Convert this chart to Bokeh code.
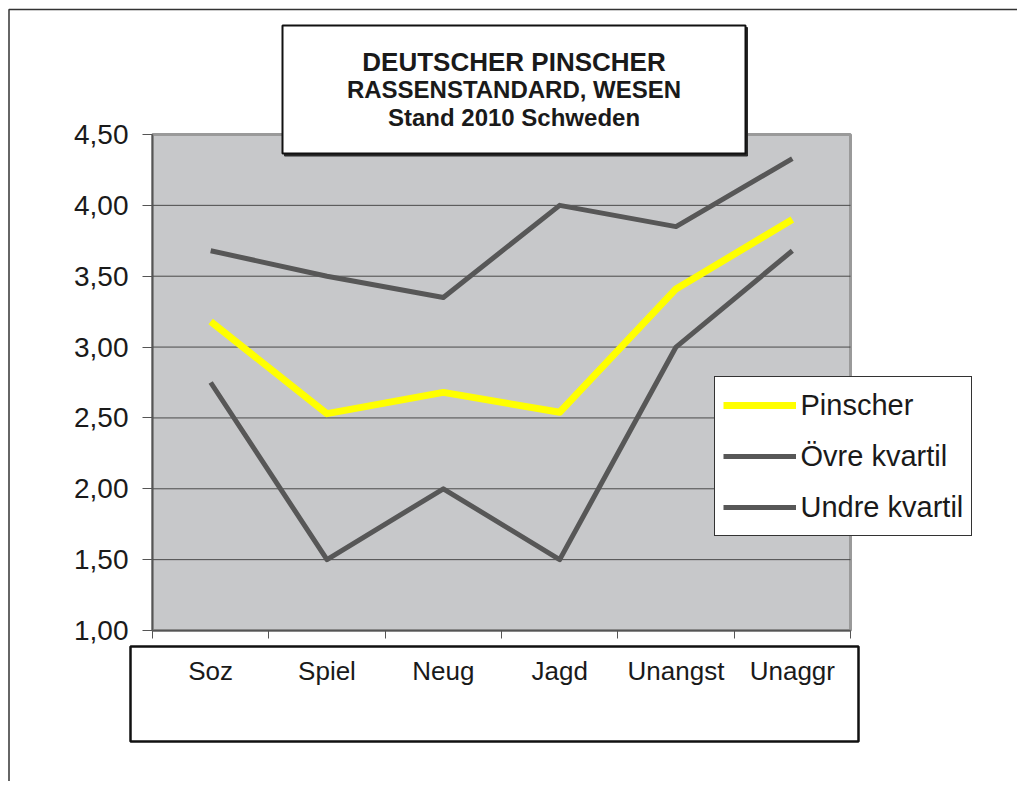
from bokeh.plotting import figure
from bokeh.models import (Range1d, FixedTicker, BoxAnnotation, Label,
                          Legend, LegendItem, LinearAxis)
from bokeh.embed import file_html
from bokeh.resources import INLINE

# ---- data ----
categories = ["Soz", "Spiel", "Neug", "Jagd", "Unangst", "Unaggr"]
pinscher = [3.18, 2.53, 2.68, 2.54, 3.41, 3.90]
ovre_kvartil = [3.68, 3.50, 3.35, 4.00, 3.85, 4.33]
undre_kvartil = [2.75, 1.50, 2.00, 1.50, 3.00, 3.68]
series_names = ["Pinscher", "Övre kvartil", "Undre kvartil"]
y_ticks = [1.0, 1.5, 2.0, 2.5, 3.0, 3.5, 4.0, 4.5]
y_tick_labels = ["1,00", "1,50", "2,00", "2,50", "3,00", "3,50", "4,00", "4,50"]
title_lines = ["DEUTSCHER PINSCHER", "RASSENSTANDARD, WESEN", "Stand 2010 Schweden"]

FONT = "Liberation Sans"
TEXT = "#1a1a1a"
GREY_LINE = "#575757"

# ---- layout (canvas pixels) ----
W, H = 1017, 781
PA_L, PA_R, PA_T, PA_B = 152, 850, 134, 630   # plot area

n = len(categories)
slot_centers = [i + 0.5 for i in range(n)]       # category slot centres
slot_edges = list(range(n + 1))                  # category slot boundaries
y0, y1 = y_ticks[0], y_ticks[-1]
px_x = (PA_R - PA_L) / n
px_y = (PA_B - PA_T) / (y1 - y0)
x_range = Range1d(-PA_L / px_x, (W - PA_L) / px_x)
y_range = Range1d(y0 - (H - PA_B) / px_y, y1 + PA_T / px_y)

p = figure(width=W, height=H, x_range=x_range, y_range=y_range,
           output_backend="svg", toolbar_location=None,
           x_axis_location=None, y_axis_location=None,
           min_border=0)
p.grid.visible = False
p.outline_line_color = None
p.background_fill_color = "white"
p.border_fill_color = "white"

# plot area background and grid lines
p.quad(left=slot_edges[0], right=slot_edges[-1], bottom=y0, top=y1,
       fill_color="#c7c8ca", line_color="#9a9a9a", line_width=3)
inner = y_ticks[1:-1]
p.segment(x0=[slot_edges[0]] * len(inner), y0=inner,
          x1=[slot_edges[-1]] * len(inner), y1=inner,
          line_color="#4a4a4a", line_width=1)

# y axis
ya = LinearAxis(fixed_location=slot_edges[0], bounds=(y0, y1),
                ticker=FixedTicker(ticks=y_ticks),
                major_label_overrides=dict(zip(y_ticks, y_tick_labels)),
                major_label_text_font=FONT, major_label_text_font_size="28px",
                major_label_text_color=TEXT,
                major_tick_out=10, major_tick_in=0, minor_tick_line_color=None,
                axis_line_color="#555555", axis_line_width=1.5,
                major_tick_line_color="#555555", major_label_standoff=14)
p.add_layout(ya, "left")

# x axis: labels at slot centres, tick marks on slot boundaries
xa = LinearAxis(fixed_location=y0, bounds=(slot_edges[0], slot_edges[-1]),
                ticker=FixedTicker(ticks=slot_centers, minor_ticks=slot_edges),
                major_label_overrides=dict(zip(slot_centers, categories)),
                major_label_text_font=FONT, major_label_text_font_size="26px",
                major_label_text_color=TEXT,
                major_tick_line_color=None, major_tick_out=0, major_tick_in=0,
                minor_tick_out=8, minor_tick_in=0, minor_tick_line_color="#555555",
                minor_tick_line_width=1,
                axis_line_color="#555555", axis_line_width=1.5,
                major_label_standoff=17)
p.add_layout(xa, "below")

# lines
r_p = p.line(slot_centers, pinscher, line_color="#ffff00", line_width=7, line_join="round")
r_o = p.line(slot_centers, ovre_kvartil, line_color=GREY_LINE, line_width=5, line_join="round")
r_u = p.line(slot_centers, undre_kvartil, line_color=GREY_LINE, line_width=5, line_join="round")


def screen_box(l, r, t, b, **kw):
    return BoxAnnotation(left=l, right=r, top=H - t, bottom=H - b,
                         left_units="screen", right_units="screen",
                         top_units="screen", bottom_units="screen",
                         line_alpha=1, **kw)


# outer chart border
p.add_layout(screen_box(8.5, W + 50, 9, H + 50, fill_alpha=0,
                        line_color="#333333", line_width=1.5))

# title box with shadow
p.add_layout(screen_box(284, 747, 27, 155.5, fill_color="#2a2a2a", fill_alpha=1,
                        line_color="#2a2a2a", line_width=1))
p.add_layout(screen_box(282, 745, 25, 153, fill_color="white", fill_alpha=1,
                        line_color="#111111", line_width=2))
for txt, base, fs in zip(title_lines, [61, 89, 117], ["26px", "24px", "24px"]):
    p.add_layout(Label(x=513.5, y=H - base, x_units="screen", y_units="screen", text=txt,
                       text_align="center", text_baseline="alphabetic",
                       text_font=FONT, text_font_style="bold", text_font_size=fs,
                       text_color=TEXT))

# category label box
p.add_layout(screen_box(130, 858, 646, 741, fill_alpha=0,
                        line_color="#111111", line_width=2.5))

# legend
legend = Legend(items=[LegendItem(label=series_names[0], renderers=[r_p]),
                       LegendItem(label=series_names[1], renderers=[r_o]),
                       LegendItem(label=series_names[2], renderers=[r_u])],
                location=(713.5, H - 536), orientation="vertical",
                border_line_color="#333333", border_line_width=1, border_line_alpha=1,
                background_fill_color="white", background_fill_alpha=1,
                padding=8, spacing=11, margin=0,
                glyph_width=73, glyph_height=40, label_height=40,
                label_standoff=5, label_text_font=FONT, label_text_font_size="29px",
                label_text_color=TEXT)
p.add_layout(legend)

open("out.html", "w").write(file_html(p, INLINE))
